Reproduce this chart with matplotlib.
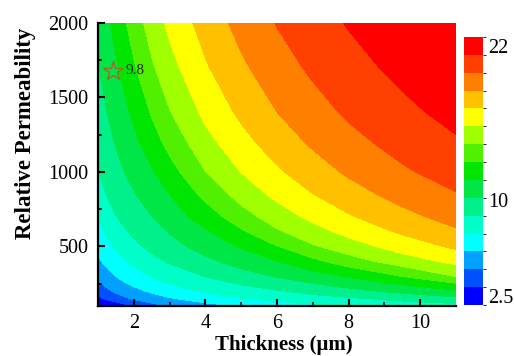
import numpy as np
import matplotlib
matplotlib.use("Agg")
import matplotlib.pyplot as plt
from matplotlib.colors import ListedColormap, BoundaryNorm

# ---- data ----
thickness = [1, 1.25, 1.5, 2, 2.5, 3, 4, 5, 6, 7, 8, 9.5, 11]      # um
permeability = [100, 150, 200, 250, 300, 400, 500, 600, 700, 850,
                1000, 1200, 1400, 1700, 2000]
# one row per permeability value, one column per thickness value
z_100 = [1.85, 1.85, 2.23, 3.29, 4.11, 4.72, 5.47, 6.06, 6.61, 7.08, 7.46, 7.88, 8.24]
z_150 = [2.87, 3.48, 3.98, 4.77, 5.37, 5.86, 6.69, 7.35, 7.83, 8.23, 8.57, 9.20, 9.85]
z_200 = [3.82, 4.34, 4.80, 5.59, 6.22, 6.75, 7.57, 8.17, 8.66, 9.23, 9.76, 10.55, 11.36]
z_250 = [4.38, 4.94, 5.46, 6.27, 6.91, 7.42, 8.23, 8.88, 9.56, 10.13, 10.79, 11.74, 12.87]
z_300 = [4.85, 5.49, 6.01, 6.82, 7.45, 7.98, 8.82, 9.59, 10.26, 11.00, 11.70, 12.98, 14.40]
z_400 = [5.74, 6.37, 6.87, 7.69, 8.37, 8.93, 9.85, 10.72, 11.54, 12.60, 13.70, 15.05, 16.11]
z_500 = [6.41, 7.02, 7.54, 8.44, 9.13, 9.68, 10.70, 11.68, 12.90, 14.17, 15.13, 16.34, 17.38]
z_600 = [6.94, 7.57, 8.17, 9.06, 9.70, 10.25, 11.41, 12.76, 14.16, 15.23, 16.15, 17.34, 18.34]
z_700 = [7.38, 8.12, 8.73, 9.53, 10.15, 10.85, 12.21, 13.75, 15.05, 16.08, 16.99, 18.13, 19.04]
z_850 = [8.08, 8.83, 9.32, 10.07, 10.87, 11.54, 13.33, 14.89, 16.09, 17.10, 17.96, 19.02, 19.84]
z_1000 = [8.72, 9.30, 9.76, 10.63, 11.42, 12.41, 14.31, 15.76, 16.92, 17.90, 18.72, 19.72, 20.49]
z_1200 = [9.23, 9.78, 10.25, 11.24, 12.30, 13.40, 15.28, 16.67, 17.80, 18.73, 19.50, 20.42, 21.16]
z_1400 = [9.63, 10.16, 10.76, 11.83, 13.08, 14.26, 16.06, 17.41, 18.51, 19.38, 20.12, 20.98, 21.72]
z_1700 = [10.09, 10.78, 11.37, 12.78, 14.13, 15.26, 16.97, 18.28, 19.32, 20.15, 20.82, 21.67, 22.40]
z_2000 = [10.58, 11.27, 12.03, 13.61, 14.95, 16.05, 17.70, 18.97, 19.98, 20.74, 21.40, 22.24, 22.60]

cbar_ticks = [2.5, 10, 22]
cbar_ticklabels = ["2.5", "10", "22"]
x_ticks = [2, 4, 6, 8, 10]
y_ticks = [500, 1000, 1500, 2000]

star_t = 1.42
star_mu = 1680
star_label = "9.8"

# ---- styling ----
band_colors = ["#0000ff", "#0050ff", "#00a0ff", "#00ffff", "#00ffc8",
               "#00f08c", "#00e646", "#00e600", "#50f000", "#a0ff00",
               "#ffff00", "#ffc000", "#ff8000", "#ff4000", "#ff0000"]
n_bands = len(band_colors)
step = (cbar_ticks[-1] - cbar_ticks[0]) / (n_bands - 1)
levels = np.linspace(cbar_ticks[0] - step / 2, cbar_ticks[-1] + step / 2, n_bands + 1)
cmap = ListedColormap(band_colors)
norm = BoundaryNorm(levels, cmap.N)

plt.rcParams['font.family'] = ['Liberation Serif', 'DejaVu Serif']

fig = plt.figure(figsize=(5.14, 3.56), dpi=100)
ax = fig.add_axes([98/514, 1-306/356, (456-98)/514, (306-23)/356])

Z = np.array([z_100, z_150, z_200, z_250, z_300, z_400, z_500, z_600, z_700,
              z_850, z_1000, z_1200, z_1400, z_1700, z_2000])
X, Y = np.meshgrid(thickness, permeability)
cs = ax.contourf(X, Y, Z, levels=levels, cmap=cmap, norm=norm)

ax.plot([star_t], [star_mu], marker='*', mfc='none', mec='#a06a2c', ms=15, mew=1.0, ls='none')
ax.text(star_t + 0.36, star_mu, star_label, fontsize=11, va='center', ha='left', color='#222222')

ax.set_xlim(1, 11)
ax.set_ylim(100, 2000)
ax.set_xticks(x_ticks)
ax.set_yticks(y_ticks)
ax.set_xticks([3, 5, 7, 9], minor=True)
ax.set_yticks([250, 750, 1250, 1750], minor=True)
for s in ['top', 'right']:
    ax.spines[s].set_visible(False)
for s in ['left', 'bottom']:
    ax.spines[s].set_linewidth(1.6)
ax.tick_params(which='major', direction='in', length=5, width=1.5, labelsize=14.5, pad=7)
ax.tick_params(which='minor', direction='in', length=3, width=1.2)
ax.tick_params(axis='x', which='major', pad=6)

fig.text(26/514, 1-133/356, "Relative Permeability", rotation=90, fontsize=16.5,
         fontweight='bold', ha='center', va='center')
fig.text(284/514, 1/356, "Thickness (\u03bcm)", fontsize=15, fontweight='bold',
         ha='center', va='bottom')

cax = fig.add_axes([464/514, 1-305/356, 19/514, (305-37)/356])
cb = fig.colorbar(cs, cax=cax, ticks=cbar_ticks)
cb.ax.set_yticklabels(cbar_ticklabels)
cb.outline.set_visible(False)
cb.ax.tick_params(length=0, labelsize=14.5, pad=4)

fig.savefig("out.png", dpi=100)
